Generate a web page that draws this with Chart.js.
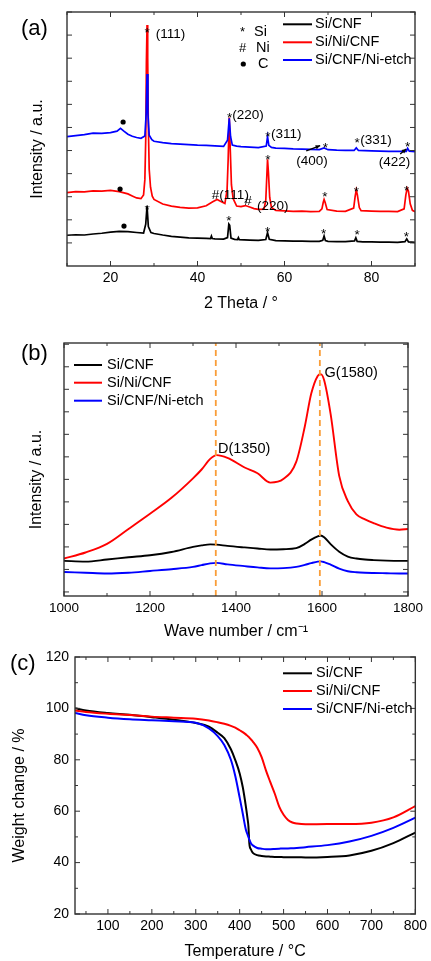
<!DOCTYPE html>
<html>
<head>
<meta charset="utf-8">
<script src="https://cdn.jsdelivr.net/npm/chart.js@4.4.1/dist/chart.umd.min.js"></script>
<style>
body{margin:0;background:#fff;width:431px;height:961px;overflow:hidden;position:relative;font-family:"Liberation Sans",Arial,sans-serif}
canvas{position:absolute;left:0}
.tag{position:absolute;font-size:22px;line-height:22px;color:#000}
</style>
</head>
<body>
<canvas id="xrd" width="431" height="316" style="top:0"></canvas>
<canvas id="raman" width="431" height="336" style="top:310px"></canvas>
<canvas id="tga" width="431" height="321" style="top:640px"></canvas>
<div class="tag" style="left:21px;top:17px">(a)</div>
<div class="tag" style="left:21px;top:342px">(b)</div>
<div class="tag" style="left:10px;top:652px">(c)</div>
<script>
var names = ['Si/CNF', 'Si/Ni/CNF', 'Si/CNF/Ni-etch'];
var colors = ['#000000', '#ff0000', '#0000ff'];

// (a) XRD, 2 theta vs intensity (a.u.)
var xrdBlackX = [10, 12, 14, 16, 18, 20, 22, 24, 26, 27.6, 28.1, 28.4, 28.7, 29.3, 30, 32, 34, 36, 38, 40, 42, 43, 43.2, 43.4, 44, 46, 46.9, 47.2, 47.4, 47.7, 48.5, 49.2, 49.4, 49.6, 52, 54, 55.7, 56.1, 56.5, 58, 60, 62, 64, 66, 68, 68.8, 69.1, 69.4, 70, 72, 74, 76.1, 76.4, 76.7, 78, 80, 82, 84, 86, 87.7, 88.1, 88.5, 90];
var xrdBlackY = [12.1, 12.3, 12.2, 12.6, 12.9, 13.3, 13.6, 13.5, 13.2, 13.0, 16.5, 23.6, 15.5, 13.2, 12.8, 12.2, 11.7, 11.4, 11.1, 11.0, 10.9, 10.8, 11.8, 10.8, 10.7, 10.6, 11.2, 16.5, 16.0, 11.0, 10.5, 10.4, 11.2, 10.4, 10.2, 10.1, 10.4, 13.1, 10.5, 10.0, 9.9, 9.8, 9.8, 9.7, 9.7, 10.1, 11.8, 10.0, 9.7, 9.6, 9.6, 9.9, 11.1, 9.7, 9.5, 9.5, 9.4, 9.4, 9.3, 9.6, 10.7, 9.5, 9.3];
var xrdRedX = [10, 12, 14, 16, 18, 20, 22, 24, 25, 26, 27, 27.6, 27.9, 28.1, 28.25, 28.4, 28.55, 28.7, 28.9, 29.2, 29.6, 30, 32, 34, 36, 38, 40, 42, 43.5, 44.5, 45.5, 46.3, 46.8, 47.05, 47.3, 47.55, 47.8, 48.2, 49, 50, 51, 52, 53, 54, 55.3, 55.7, 55.95, 56.1, 56.3, 56.6, 57, 58, 60, 62, 64, 66, 68, 68.6, 68.9, 69.1, 69.35, 69.8, 72, 74, 75.9, 76.25, 76.5, 76.75, 77.2, 77.6, 80, 82, 84, 86, 87.5, 87.9, 88.2, 88.5, 88.9, 89.4, 90];
var xrdRedY = [28.9, 29.3, 29.2, 29.6, 29.5, 29.8, 29.3, 28.4, 27.6, 26.8, 26.5, 28, 34, 50, 80, 94.9, 82, 55, 38, 31, 27.5, 26.2, 24.4, 23.6, 23.1, 22.8, 22.9, 23.7, 25.3, 26.2, 25.3, 24.6, 30, 42, 58.5, 45, 32, 26.5, 23.6, 23.4, 23.8, 23.2, 22.6, 22.3, 22.4, 26, 36, 42, 37, 27, 23, 21.9, 21.7, 21.5, 21.6, 21.4, 21.5, 22.5, 25, 26.2, 25, 22.2, 21.6, 21.5, 22.8, 27.5, 29.9, 28, 23, 21.8, 21.6, 21.5, 21.5, 21.4, 22.5, 28, 30.6, 29.4, 24.5, 21.9, 21.4];
var xrdBlueX = [10, 12, 14, 16, 18, 20, 21.5, 22.3, 23, 24, 25, 26, 27, 27.9, 28.2, 28.4, 28.6, 28.9, 29.5, 30, 32, 34, 36, 38, 40, 42, 44, 46, 46.9, 47.3, 47.6, 48, 49, 50, 52, 54, 55.8, 56.1, 56.4, 57, 58, 60, 62, 64, 66, 68, 69.1, 70, 72, 74, 76, 76.5, 77, 80, 82, 84, 86, 88, 88.3, 88.7, 90];
var xrdBlueY = [50.9, 51.3, 51.7, 52.3, 52.2, 52.5, 53.1, 54.2, 53.2, 51.9, 51.1, 50.6, 50.3, 51.2, 60, 75.6, 60, 51.5, 49.7, 49.1, 48.6, 48.2, 48.0, 47.8, 47.6, 47.5, 47.3, 47.1, 49.5, 58.1, 51, 47.6, 47.2, 47.0, 46.8, 46.6, 47.2, 50.9, 47.5, 46.7, 46.4, 46.3, 46.1, 46.0, 45.9, 45.8, 46.5, 45.8, 45.6, 45.5, 45.5, 46.5, 45.5, 45.3, 45.2, 45.1, 45.1, 45.1, 46.3, 45.2, 45.0];

// (b) Raman, wave number vs intensity (a.u.)
var ramanX = [1000, 1050, 1100, 1150, 1200, 1250, 1300, 1320, 1340, 1355, 1380, 1420, 1450, 1480, 1510, 1540, 1560, 1575, 1590, 1597, 1605, 1620, 1640, 1660, 1680, 1700, 1720, 1750, 1780, 1800];
var ramanBlack = [13.9, 13.6, 14.4, 15.3, 16.1, 17.4, 19.4, 20.0, 20.4, 20.3, 19.8, 19.2, 18.8, 18.4, 18.5, 18.9, 20.6, 22.3, 23.6, 23.9, 23.2, 20.5, 17.5, 15.6, 14.8, 14.4, 14.2, 14.0, 13.9, 13.9];
var ramanRed = [14.8, 17.2, 20.6, 26.5, 32.5, 38.8, 46.5, 50, 54.2, 55.7, 54.6, 50.8, 48.5, 44.8, 46.2, 53, 67, 80, 87, 87.7, 85.3, 72, 47.5, 37.5, 32.3, 30.3, 28.8, 27, 26.2, 26.5];
var ramanBlue = [9.5, 9.2, 8.9, 9.2, 9.9, 10.6, 11.5, 12.2, 12.9, 13.1, 12.5, 11.8, 11.3, 10.9, 11.0, 11.5, 12.3, 13.0, 13.6, 13.7, 13.4, 12.4, 10.8, 9.8, 9.4, 9.2, 9.1, 9.0, 8.9, 8.9];
var ramanBands = [1353, 1595];

// (c) TGA, temperature vs weight change (%)
var tgaX = [25, 50, 100, 150, 200, 250, 300, 330, 350, 365, 380, 390, 400, 407, 414, 418, 420, 422, 426, 430, 440, 450, 460, 470, 480, 490, 500, 510, 520, 530, 550, 600, 650, 700, 750, 800];
var tgaBlack = [100.1, 99.2, 98.2, 97.5, 96.6, 95.6, 94.3, 92.9, 90.5, 88.4, 84.1, 79.9, 74.7, 69.4, 62, 57, 54, 47.5, 45, 43.8, 42.9, 42.6, 42.4, 42.3, 42.2, 42.2, 42.1, 42.1, 42.1, 42.1, 42.0, 42.2, 42.8, 44.6, 47.6, 51.7];
var tgaRed = [99.2, 98.6, 97.9, 97.4, 96.8, 96.4, 96.0, 95.3, 94.6, 94.0, 93.2, 92.5, 91.5, 90.8, 89.9, 89.3, 89.0, 88.6, 87.9, 87.1, 84.7, 81, 75.8, 71.2, 66.8, 61.8, 58.6, 56.6, 55.6, 55.2, 54.9, 55.0, 55.0, 55.5, 57.6, 62.0];
var tgaBlue = [98.2, 97.3, 96.4, 95.8, 95.4, 95.0, 94.4, 92.2, 89.2, 85.8, 80.0, 73.7, 65.3, 59.1, 52.9, 50.9, 49.9, 48.9, 47.4, 46.7, 45.7, 45.4, 45.2, 45.2, 45.3, 45.4, 45.5, 45.5, 45.6, 45.7, 46.0, 46.8, 48.2, 50.4, 53.5, 57.5];

var FONT = '"Liberation Sans", Arial, sans-serif';
Chart.defaults.font.family = FONT;
Chart.defaults.color = '#000';

// y titles sit a little below the middle in the original, a trailing space nudges them down
var NUDGE = '\u2003\u2005';

function pts(xs, ys) {
    return xs.map(function(x, i){ return {x: x, y: ys[i]}; });
}

function series(xs, ys, i, width, smooth) {
    return {
        label: names[i],
        data: pts(xs, ys),
        borderColor: colors[i],
        borderWidth: width,
        pointRadius: 0,
        fill: false,
        order: 3 - i,
        cubicInterpolationMode: smooth ? 'monotone' : 'default',
        tension: 0
    };
}

// box, inward ticks, legend and peak notes
var frame = {
    id: 'frame',
    afterDraw: function(chart) {
        var o = chart.options.plugins.frame;
        var ctx = chart.ctx, a = chart.chartArea;
        var sx = chart.scales.x, sy = chart.scales.y;
        ctx.save();
        ctx.strokeStyle = '#333';
        ctx.lineWidth = 1.4;
        ctx.strokeRect(a.left, a.top, a.right - a.left, a.bottom - a.top);
        ctx.lineWidth = 1;
        ['x', 'y'].forEach(function(k){
            var s = chart.scales[k], t = o[k];
            for (var v = t.from; v <= s.max + 1e-6; v += t.step) {
                if (v < s.min - 1e-6) continue;
                var r = v / t.major;
                var len = Math.abs(r - Math.round(r)) < 1e-6 ? 5 : 3;
                var p = s.getPixelForValue(v);
                ctx.beginPath();
                if (k === 'x') {
                    ctx.moveTo(p, a.bottom); ctx.lineTo(p, a.bottom - len);
                    ctx.moveTo(p, a.top); ctx.lineTo(p, a.top + len);
                } else {
                    ctx.moveTo(a.left, p); ctx.lineTo(a.left + len, p);
                    ctx.moveTo(a.right, p); ctx.lineTo(a.right - len, p);
                }
                ctx.stroke();
            }
        });

        // legend
        var L = o.legend;
        ctx.font = '14.5px ' + FONT;
        ctx.textBaseline = 'middle';
        ctx.textAlign = 'left';
        ctx.lineWidth = 2;
        names.forEach(function(n, i){
            ctx.strokeStyle = colors[i];
            ctx.beginPath();
            ctx.moveTo(L.x0, L.ys[i]); ctx.lineTo(L.x1, L.ys[i]);
            ctx.stroke();
            ctx.fillStyle = '#000';
            ctx.fillText(n, L.tx, L.ys[i]);
        });

        // symbol key
        (o.key || []).forEach(function(k){
            if (k.t === 'dot') {
                ctx.beginPath();
                ctx.arc(k.x, k.y, 2.6, 0, Math.PI * 2);
                ctx.fill();
                return;
            }
            ctx.font = k.size + 'px ' + FONT;
            ctx.fillText(k.t, k.x, k.y);
        });

        // notes in data coordinates
        ctx.fillStyle = '#000';
        (o.notes || []).forEach(function(n){
            ctx.font = (n.size || 13.5) + 'px ' + FONT;
            ctx.textAlign = n.align || 'left';
            ctx.fillText(n.t, sx.getPixelForValue(n.x), sy.getPixelForValue(n.y));
        });
        (o.dots || []).forEach(function(d){
            ctx.beginPath();
            ctx.arc(sx.getPixelForValue(d[0]), sy.getPixelForValue(d[1]), 2.6, 0, Math.PI * 2);
            ctx.fill();
        });
        ctx.strokeStyle = '#000';
        ctx.lineWidth = 1.3;
        (o.arrows || []).forEach(function(w){
            var x1 = sx.getPixelForValue(w[0]), y1 = sy.getPixelForValue(w[1]);
            var x2 = sx.getPixelForValue(w[2]), y2 = sy.getPixelForValue(w[3]);
            var ang = Math.atan2(y2 - y1, x2 - x1);
            ctx.beginPath(); ctx.moveTo(x1, y1); ctx.lineTo(x2, y2); ctx.stroke();
            ctx.beginPath();
            ctx.moveTo(x2, y2);
            ctx.lineTo(x2 - 5 * Math.cos(ang - 0.45), y2 - 5 * Math.sin(ang - 0.45));
            ctx.lineTo(x2 - 5 * Math.cos(ang + 0.45), y2 - 5 * Math.sin(ang + 0.45));
            ctx.closePath(); ctx.fill();
        });
        ctx.restore();
    }
};

function xAxis(min, max, step, size, height, title, tpad, lpad, skip) {
    return {
        type: 'linear', min: min, max: max,
        grid: {display: false, drawTicks: false},
        border: {display: false},
        ticks: {
            stepSize: step, autoSkip: false, maxRotation: 0, padding: lpad,
            font: {size: size},
            callback: function(v){ return skip(v) ? '' : v; }
        },
        title: {display: true, text: title, font: {size: 16}, padding: {top: 0, bottom: tpad}},
        afterFit: function(s){ s.height = height; }
    };
}

function yAxis(min, max, step, showTicks, width, title, tpad) {
    return {
        type: 'linear', min: min, max: max,
        grid: {display: false, drawTicks: false},
        border: {display: false},
        ticks: {display: showTicks, stepSize: step, padding: 6, font: {size: 14}},
        title: {display: true, text: title + NUDGE, font: {size: 16}, padding: {top: tpad, bottom: 0}},
        afterFit: function(s){ s.width = width; }
    };
}

new Chart(document.getElementById('xrd'), {
    type: 'line',
    data: {datasets: [
        series(xrdBlackX, xrdBlackY, 0, 1.7, false),
        series(xrdRedX, xrdRedY, 1, 1.7, false),
        series(xrdBlueX, xrdBlueY, 2, 1.7, false)
    ]},
    options: {
        responsive: false, animation: false,
        layout: {padding: {left: 0, top: 12, right: 16, bottom: 0}},
        scales: {
            x: xAxis(10, 90, 10, 14, 50, '2 Theta / \u00b0', 3, 4, function(v){ return v % 20 !== 0; }),
            y: yAxis(0, 100, 10, false, 67, 'Intensity / a.u.', 28)
        },
        plugins: {
            legend: {display: false}, tooltip: {enabled: false},
            frame: {
                x: {from: 10, step: 10, major: 20},
                y: {from: 100 / 11, step: 100 / 11, major: 1e9},
                legend: {x0: 283, x1: 312, tx: 315, ys: [24.3, 42.3, 60]},
                key: [
                    {t: '*', x: 240, y: 32, size: 13},
                    {t: 'Si', x: 254, y: 32, size: 14.5},
                    {t: '#', x: 239, y: 48.3, size: 13},
                    {t: 'Ni', x: 256, y: 48.3, size: 14.5},
                    {t: 'dot', x: 243.3, y: 64},
                    {t: 'C', x: 258, y: 64, size: 14.5}
                ],
                notes: [
                    {t: '*', x: 28.4, y: 91.5, align: 'center'},
                    {t: '(111)', x: 30.4, y: 91.3},
                    {t: '*', x: 47.4, y: 58, align: 'center'},
                    {t: '(220)', x: 48.0, y: 59.4},
                    {t: '*', x: 56.2, y: 50.8, align: 'center'},
                    {t: '(311)', x: 56.9, y: 52},
                    {t: '*', x: 69.4, y: 46.4, align: 'center'},
                    {t: '(400)', x: 66.3, y: 41.1, align: 'center'},
                    {t: '*', x: 76.7, y: 48.2, align: 'center'},
                    {t: '(331)', x: 77.4, y: 49.3},
                    {t: '*', x: 88.3, y: 46.8, align: 'center'},
                    {t: '(422)', x: 85.3, y: 40.7, align: 'center'},
                    {t: '*', x: 56.2, y: 41.5, align: 'center'},
                    {t: '*', x: 69.3, y: 27, align: 'center'},
                    {t: '*', x: 76.5, y: 29, align: 'center'},
                    {t: '*', x: 88.1, y: 29.6, align: 'center'},
                    {t: '#(111)', x: 43.3, y: 27.7},
                    {t: '#', x: 51.6, y: 25.6, align: 'center'},
                    {t: '(220)', x: 53.7, y: 23.7},
                    {t: '*', x: 28.4, y: 22, align: 'center'},
                    {t: '*', x: 47.2, y: 17.6, align: 'center'},
                    {t: '*', x: 56.1, y: 13.2, align: 'center'},
                    {t: '*', x: 69.0, y: 12.3, align: 'center'},
                    {t: '*', x: 76.7, y: 11.9, align: 'center'},
                    {t: '*', x: 88.0, y: 11.3, align: 'center'}
                ],
                dots: [[22.9, 56.7], [22.2, 30.3], [23.1, 15.7]],
                arrows: [[65.0, 45.3, 68.2, 47.4], [86.6, 44.1, 88.0, 46.1]]
            }
        }
    },
    plugins: [frame]
});

var bandLines = ramanBands.map(function(b){
    return {
        label: 'band', data: pts([b, b], [0, 100]),
        borderColor: '#f99d38', borderWidth: 1.8, borderDash: [6, 4],
        pointRadius: 0, order: 0
    };
});

new Chart(document.getElementById('raman'), {
    type: 'line',
    data: {datasets: [
        series(ramanX, ramanBlack, 0, 1.9, true),
        series(ramanX, ramanRed, 1, 1.9, true),
        series(ramanX, ramanBlue, 2, 1.9, true)
    ].concat(bandLines)},
    options: {
        responsive: false, animation: false,
        layout: {padding: {left: 0, top: 33, right: 23, bottom: 0}},
        scales: {
            x: xAxis(1000, 1800, 200, 13.5, 50, 'Wave number / cm\u207b\u00b9', 5, 4, function(){ return false; }),
            y: yAxis(0, 100, 10, false, 64, 'Intensity / a.u.', 27)
        },
        plugins: {
            legend: {display: false}, tooltip: {enabled: false},
            frame: {
                x: {from: 1000, step: 100, major: 200},
                y: {from: 1.6, step: 8.9, major: 1e9},
                legend: {x0: 74, x1: 102, tx: 107, ys: [55, 72.7, 90.7]},
                notes: [
                    {t: 'D(1350)', x: 1358, y: 58, size: 14.5},
                    {t: 'G(1580)', x: 1606, y: 88.1, size: 14.5}
                ]
            }
        }
    },
    plugins: [frame]
});

new Chart(document.getElementById('tga'), {
    type: 'line',
    data: {datasets: [
        series(tgaX, tgaBlack, 0, 2, true),
        series(tgaX, tgaRed, 1, 2, true),
        series(tgaX, tgaBlue, 2, 2, true)
    ]},
    options: {
        responsive: false, animation: false,
        layout: {padding: {left: 0, top: 17, right: 11, bottom: 0}},
        scales: {
            x: xAxis(25, 800, 100, 14, 47, 'Temperature / \u00b0C', 0, 4, function(v){ return v % 100 !== 0; }),
            y: yAxis(20, 120, 20, true, 75, 'Weight change / %', 10)
        },
        plugins: {
            legend: {display: false}, tooltip: {enabled: false},
            frame: {
                x: {from: 50, step: 50, major: 100},
                y: {from: 20, step: 10, major: 20},
                legend: {x0: 283, x1: 312, tx: 316, ys: [33.3, 51, 69]}
            }
        }
    },
    plugins: [frame]
});
</script>
</body>
</html>
